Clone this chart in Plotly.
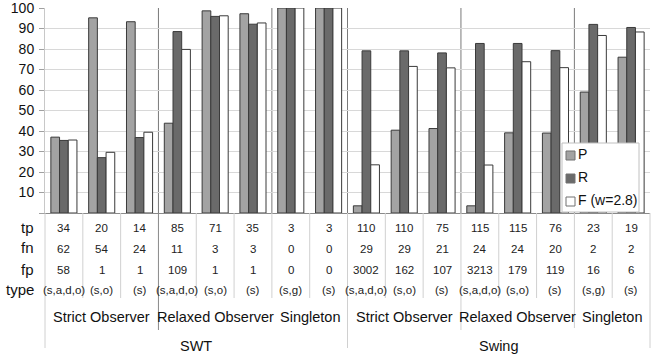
import plotly.graph_objects as go

# ---- data ----
cols = list(range(16))
P = [37.0, 95.2, 93.3, 43.8, 98.6, 97.2, 100, 100, 3.5, 40.4, 41.2, 3.5, 39.1, 39.0, 59.0, 76.0]
R = [35.4, 27.0, 36.8, 88.5, 95.9, 92.1, 100, 100, 79.1, 79.1, 78.1, 82.7, 82.7, 79.2, 92.0, 90.5]
F = [35.6, 29.6, 39.4, 79.8, 96.2, 92.7, 100, 100, 23.5, 71.5, 70.8, 23.4, 73.8, 70.9, 86.6, 88.3]
tp = [34, 20, 14, 85, 71, 35, 3, 3, 110, 110, 75, 115, 115, 76, 23, 19]
fn = [62, 54, 24, 11, 3, 3, 0, 0, 29, 29, 21, 24, 24, 20, 2, 2]
fp = [58, 1, 1, 109, 1, 1, 0, 0, 3002, 162, 107, 3213, 179, 119, 16, 6]
types = ["(s,a,d,o)", "(s,o)", "(s)", "(s,a,d,o)", "(s,o)", "(s)", "(s,g)", "(s)",
         "(s,a,d,o)", "(s,o)", "(s)", "(s,a,d,o)", "(s,o)", "(s)", "(s,g)", "(s)"]
row_names = ["tp", "fn", "fp", "type"]
sub_groups = ["Strict Observer", "Relaxed Observer", "Singleton",
              "Strict Observer", "Relaxed Observer", "Singleton"]
sub_group_centers = [1, 4, 6.5, 9, 12, 14.5]
main_groups = ["SWT", "Swing"]
main_group_centers = [3.5, 11.5]
series_names = ["P", "R", "F (w=2.8)"]
series_colors = ["#a3a3a3", "#6a6a6a", "#ffffff"]
y_ticks = list(range(0, 101, 10))

W, H = 652, 360
ML, MR, MT, MB = 45, 2, 8, 147
PH = H - MT - MB
PW = W - ML - MR
def py(p):  # pixel y -> paper y
    return (H - MB - p) / PH
def px(p):  # pixel x -> paper x
    return (p - ML) / PW

FONT = "Liberation Sans, Arial, sans-serif"
OUT = "#3a3a3a"

fig = go.Figure()
for name, vals, colr in zip(series_names, [P, R, F], series_colors):
    fig.add_bar(x=cols, y=vals, name=name, showlegend=False, hoverinfo="skip",
                marker=dict(color=colr, line=dict(color=OUT, width=1)))

shapes = []
# group separators in plot area
for b in [3, 6, 8, 11, 14]:
    shapes.append(dict(type="line", xref="paper", yref="paper", x0=b/16, x1=b/16, y0=0, y1=1,
                       line=dict(color="#7a7a7a", width=1), layer="below"))
# table column lines
ext = {0: 348, 3: 330, 8: 348, 11: 330, 14: 328, 16: 348}
for b in range(17):
    bottom = ext.get(b, 298)
    col = "#8a8a8a" if b == 3 else "#d0d0d0"
    shapes.append(dict(type="line", xref="paper", yref="paper", x0=b/16, x1=b/16,
                       y0=0, y1=py(bottom), line=dict(color=col, width=1)))

ann = []
row_y = [228, 249, 270, 290]
rows = [tp, fn, fp, types]
for name, yy in zip(row_names, row_y):
    ann.append(dict(x=px(36), xref="paper", xanchor="right", y=py(yy - 1), yref="paper",
                    yanchor="middle", text=name, showarrow=False,
                    font=dict(size=15, color="#111", family=FONT)))
for vals, yy in zip(rows, row_y):
    for c, v in zip(cols, vals):
        ann.append(dict(x=c, xref="x", y=py(yy), yref="paper", yanchor="middle",
                        text=str(v), showarrow=False,
                        font=dict(size=11.5, color="#222", family=FONT)))
for g, cx in zip(sub_groups, sub_group_centers):
    ann.append(dict(x=cx, xref="x", y=py(317), yref="paper", yanchor="middle",
                    text=g, showarrow=False, font=dict(size=14.5, color="#111", family=FONT)))
for g, cx in zip(main_groups, main_group_centers):
    ann.append(dict(x=cx, xref="x", y=py(346), yref="paper", yanchor="middle",
                    text=g, showarrow=False, font=dict(size=14.5, color="#111", family=FONT)))

# custom legend box
shapes.append(dict(type="rect", xref="paper", yref="paper", x0=px(562), x1=px(639),
                   y0=py(212), y1=py(143), fillcolor="white", line=dict(color="#c0c0c0", width=1),
                   layer="above"))
leg_y = [155, 178, 201]
for name, colr, yy in zip(series_names, series_colors, leg_y):
    shapes.append(dict(type="rect", xref="paper", yref="paper", x0=px(566), x1=px(575),
                       y0=py(yy + 5), y1=py(yy - 4), fillcolor=colr,
                       line=dict(color="#707070", width=1), layer="above"))
    ann.append(dict(x=px(576), xref="paper", xanchor="left", y=py(yy - 1), yref="paper",
                    yanchor="middle", text=name, showarrow=False,
                    font=dict(size=14, color="#111", family=FONT)))

fig.update_layout(
    width=W, height=H, margin=dict(l=ML, r=MR, t=MT, b=MB, autoexpand=False),
    paper_bgcolor="white", plot_bgcolor="white",
    barmode="group", bargap=0.31, bargroupgap=0,
    font=dict(family=FONT, color="#111"),
    showlegend=False, hovermode=False,
    shapes=shapes, annotations=ann,
)
fig.update_xaxes(range=[-0.5, 15.5], showticklabels=False, showgrid=False, zeroline=False,
                 showline=True, linecolor="#8a8a8a", linewidth=1, ticks="", automargin=False)
fig.update_yaxes(range=[0, 100], tickvals=y_ticks,
                 ticktext=[""] + [str(v) for v in y_ticks[1:]],
                 ticks="outside", ticklen=5, tickcolor="#a0a0a0",
                 ticklabelstandoff=2, ticklabeloverflow="allow", automargin=False,
                 showgrid=True, gridcolor="#d8d8d8", gridwidth=1, zeroline=False,
                 showline=True, linecolor="#c8c8c8",
                 tickfont=dict(size=14, family=FONT, color="#111"))

fig.write_html("out.html", config={"displayModeBar": False, "staticPlot": True},
               post_script="document.body.style.margin='0';document.body.style.overflow='hidden';")
